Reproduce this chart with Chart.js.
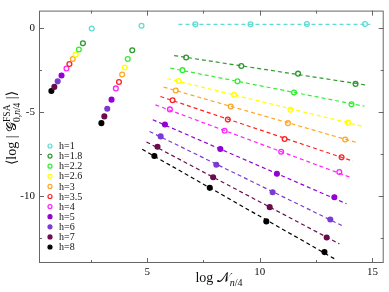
<!DOCTYPE html>
<html lang="en">
<head>
    <meta charset="UTF-8">
    <title>FSA scaling</title>
    <script src="https://cdn.jsdelivr.net/npm/chart.js"></script>
    <style>
        html, body { margin: 0; padding: 0; background: #fff; }
        #wrap { width: 389px; height: 292px; }
    </style>
</head>
<body>
<div id="wrap"><canvas id="chart" width="389" height="292"></canvas></div>
<script>
// series labels / colours
const hLabels = ['h=1', 'h=1.8', 'h=2.2', 'h=2.6', 'h=3', 'h=3.5', 'h=4', 'h=5', 'h=6', 'h=7', 'h=8'];
const colors = ['#5edcd6', '#2e992e', '#33ee33', '#ffff00', '#ffa726', '#ff2222', '#ff22ff', '#9400d3', '#7a3ad4', '#6b0b4e', '#000000'];
const filled = [false, false, false, false, false, false, false, true, true, true, true];

// measured points (log N, <log |G|>)
const xs = [
    [2.54, 4.75, 7.14, 9.59, 12.09, 14.67],
    [2.15, 4.34, 6.73, 9.18, 11.70, 14.25],
    [1.97, 4.14, 6.57, 9.01, 11.52, 14.07],
    [1.83, 4.01, 6.40, 8.86, 11.36, 13.92],
    [1.70, 3.89, 6.27, 8.71, 11.25, 13.79],
    [1.55, 3.75, 6.13, 8.58, 11.10, 13.63],
    [1.42, 3.61, 6.01, 8.44, 10.95, 13.53],
    [1.20, 3.42, 5.79, 8.25, 10.76, 13.31],
    [1.03, 3.23, 5.60, 8.07, 10.57, 13.13],
    [0.88, 3.10, 5.46, 7.93, 10.44, 12.97],
    [0.75, 2.97, 5.32, 7.78, 10.29, 12.87]
];
const ys = [
    [-0.02, 0.15, 0.23, 0.23, 0.25, 0.25],
    [-0.90, -1.31, -1.75, -2.25, -2.71, -3.32],
    [-1.27, -1.84, -2.50, -3.17, -3.84, -4.53],
    [-1.57, -2.34, -3.15, -3.97, -4.86, -5.63],
    [-1.84, -2.76, -3.71, -4.67, -5.66, -6.64],
    [-2.13, -3.21, -4.30, -5.45, -6.61, -7.70],
    [-2.40, -3.59, -4.84, -6.11, -7.37, -8.57],
    [-2.82, -4.26, -5.74, -7.20, -8.68, -10.08],
    [-3.17, -4.80, -6.45, -8.14, -9.78, -11.41],
    [-3.50, -5.26, -7.07, -8.89, -10.67, -12.48],
    [-3.74, -5.66, -7.62, -9.52, -11.52, -13.35]
];

// dashed fit lines: [start, end]
const fitX = [
    [6.39, 14.90], [6.20, 14.78], [6.03, 14.64], [5.89, 14.52], [5.73, 14.36], [5.59, 14.14],
    [5.37, 14.01], [5.25, 13.85], [5.11, 13.71], [4.97, 13.53], [4.78, 13.41]
];
const fitY = [
    [0.23, 0.23], [-1.63, -3.40], [-2.38, -4.65], [-3.00, -5.84], [-3.51, -6.84], [-4.07, -7.93],
    [-4.57, -8.89], [-5.46, -10.47], [-6.16, -11.81], [-6.78, -12.86], [-7.22, -13.82]
];

const xTicks = [5, 10, 15];
const yTicks = [0, -5, -10];
const xMinor = [2.5, 7.5, 12.5];
const yMinor = [-2.5, -7.5, -12.5];

const serif = "'Liberation Serif', 'DejaVu Serif', serif";

const datasets = [];
hLabels.forEach((lab, i) => {
    datasets.push({
        label: lab + ' fit',
        data: fitX[i].map((x, k) => ({ x: x, y: fitY[i][k] })),
        showLine: true,
        borderColor: colors[i],
        borderWidth: 1.2,
        borderDash: [4, 3],
        pointRadius: 0,
        fill: false
    });
});
hLabels.forEach((lab, i) => {
    datasets.push({
        label: lab,
        data: xs[i].map((x, k) => ({ x: x, y: ys[i][k] })),
        showLine: false,
        borderColor: colors[i],
        backgroundColor: filled[i] ? colors[i] : '#ffffff',
        pointRadius: 2.4,
        pointBorderWidth: 1.3
    });
});

// draw a run of text pieces starting at x, return end x
function run(ctx, pieces, x, y) {
    pieces.forEach(p => {
        ctx.font = p.f;
        ctx.fillText(p.t, x, y + (p.dy || 0));
        x += ctx.measureText(p.t).width;
    });
    return x;
}
function runWidth(ctx, pieces) {
    let w = 0;
    pieces.forEach(p => { ctx.font = p.f; w += ctx.measureText(p.t).width; });
    return w;
}

// frame, inward ticks, legend and axis titles
const decor = {
    id: 'decor',
    afterDraw(chart) {
        const ctx = chart.ctx;
        const a = chart.chartArea;
        const sx = chart.scales.x, sy = chart.scales.y;
        ctx.save();
        ctx.strokeStyle = '#666';
        ctx.lineWidth = 1;
        ctx.strokeRect(a.left + 0.5, a.top + 0.5, a.right - a.left - 1, a.bottom - a.top - 1);
        ctx.beginPath();
        const tick = (vals, len) => {
            vals.forEach(v => {
                const px = Math.round(sx.getPixelForValue(v)) + 0.5;
                ctx.moveTo(px, a.bottom); ctx.lineTo(px, a.bottom - len);
                ctx.moveTo(px, a.top); ctx.lineTo(px, a.top + len);
            });
        };
        const tickY = (vals, len) => {
            vals.forEach(v => {
                const py = Math.round(sy.getPixelForValue(v)) + 0.5;
                ctx.moveTo(a.left, py); ctx.lineTo(a.left + len, py);
                ctx.moveTo(a.right, py); ctx.lineTo(a.right - len, py);
            });
        };
        tick(xTicks, 5); tick(xMinor, 3);
        tickY(yTicks, 5); tickY(yMinor, 3);
        ctx.stroke();

        // legend
        ctx.font = '10px ' + serif;
        ctx.textBaseline = 'middle';
        ctx.textAlign = 'left';
        hLabels.forEach((lab, i) => {
            const y = 146 + i * 10.1;
            ctx.beginPath();
            ctx.arc(50, y, 2, 0, Math.PI * 2);
            ctx.fillStyle = filled[i] ? colors[i] : '#fff';
            ctx.fill();
            ctx.lineWidth = 1.2;
            ctx.strokeStyle = colors[i];
            ctx.stroke();
            ctx.fillStyle = '#111';
            ctx.fillText(lab, 59, y + 0.5);
        });

        ctx.fillStyle = '#111';
        ctx.textBaseline = 'alphabetic';
        ctx.textAlign = 'left';
        const big = '14px ' + serif;
        const small = '9.5px ' + serif;
        const smallIt = 'italic 9.5px ' + serif;

        // x title: log N_{n/4}
        const xHead = [{ t: 'log ', f: big }, { t: '\u{1D4A9}', f: big }];
        const xSub = [{ t: 'n', f: 'italic 10px ' + serif, dy: 4 }, { t: '/4', f: '10px ' + serif, dy: 4 }];
        let w = runWidth(ctx, xHead) + runWidth(ctx, xSub);
        let x = run(ctx, xHead, 219 - w / 2, 282);
        run(ctx, xSub, x, 282);

        // y title: <log | G^FSA_{0,n/4} |>
        ctx.save();
        ctx.translate(16, 128);
        ctx.rotate(-Math.PI / 2);
        const yHead = [{ t: '\u27E8log | ', f: big }, { t: '\u{1D4A2}', f: big }];
        const ySup = [{ t: 'FSA', f: small, dy: -6 }];
        const ySub = [{ t: '0,', f: small, dy: 3.5 }, { t: 'n', f: smallIt, dy: 3.5 }, { t: '/4', f: small, dy: 3.5 }];
        const yTail = [{ t: ' |\u27E9', f: big }];
        const scriptW = Math.max(runWidth(ctx, ySup), runWidth(ctx, ySub));
        w = runWidth(ctx, yHead) + scriptW + runWidth(ctx, yTail);
        x = run(ctx, yHead, -w / 2, 0);
        run(ctx, ySup, x, 0);
        run(ctx, ySub, x, 0);
        run(ctx, yTail, x + scriptW, 0);
        ctx.restore();
        ctx.restore();
    }
};

new Chart(document.getElementById('chart'), {
    type: 'scatter',
    data: { datasets: datasets },
    options: {
        responsive: false,
        animation: false,
        events: [],
        layout: { padding: { top: 1, right: 1, left: 0, bottom: 0 } },
        plugins: { legend: { display: false }, tooltip: { enabled: false } },
        scales: {
            x: {
                type: 'linear', min: 0.2, max: 15.5,
                grid: { display: false, drawTicks: false },
                border: { display: false },
                afterBuildTicks: s => { s.ticks = xTicks.map(v => ({ value: v })); },
                afterFit: s => { s.height = 29; },
                ticks: { font: { family: serif, size: 11 }, color: '#111', padding: 3, maxRotation: 0 }
            },
            y: {
                type: 'linear', min: -14, max: 1.05,
                grid: { display: false, drawTicks: false },
                border: { display: false },
                afterBuildTicks: s => { s.ticks = yTicks.map(v => ({ value: v })); },
                afterFit: s => { s.width = 39; },
                ticks: { font: { family: serif, size: 11 }, color: '#111', padding: 4 }
            }
        }
    },
    plugins: [decor]
});
</script>
</body>
</html>
